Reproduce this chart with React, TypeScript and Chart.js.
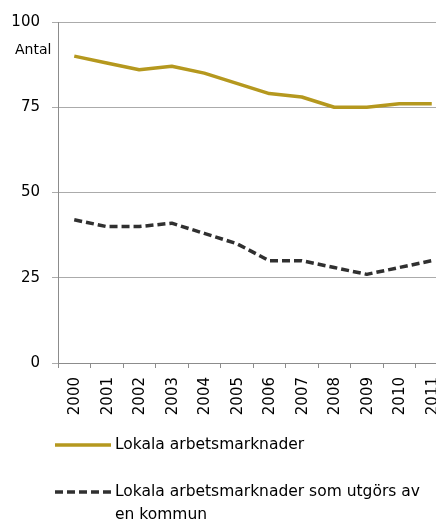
import React, { useEffect, useRef } from 'react';
import { Chart, registerables } from 'chart.js';

Chart.register(...registerables);

const years = ['2000', '2001', '2002', '2003', '2004', '2005', '2006', '2007', '2008', '2009', '2010', '2011'];
const lokala = [90, 88, 86, 87, 85, 82, 79, 78, 75, 75, 76, 76];
const enKommun = [42, 40, 40, 41, 38, 35, 30, 30, 28, 26, 28, 30];
const yMin = 0;
const yMax = 100;
const yStep = 25;
const yUnit = 'Antal';
const seriesNames = ['Lokala arbetsmarknader', 'Lokala arbetsmarknader som utgörs av\nen kommun'];

const FONT = '"DejaVu Sans", Verdana, sans-serif';
const GOLD = '#B5981E';
const DARK = '#303030';

const extras = {
  id: 'extras',
  afterDraw(chart: any) {
    const ctx = chart.ctx;
    const area = chart.chartArea;
    const xs = chart.scales.x;
    ctx.save();
    ctx.fillStyle = '#000';

    // y unit label
    ctx.textBaseline = 'middle';
    ctx.textAlign = 'left';
    ctx.font = `14px ${FONT}`;
    ctx.fillText(yUnit, 15, area.top + 28);

    // x labels, rotated to read bottom-to-top
    ctx.font = `15px ${FONT}`;
    (chart.data.labels as string[]).forEach((lab: string, i: number) => {
      const px = xs.getPixelForValue(i);
      ctx.save();
      ctx.translate(px + 1, area.bottom + 14);
      ctx.rotate(-Math.PI / 2);
      ctx.textAlign = 'right';
      ctx.textBaseline = 'middle';
      ctx.fillText(lab, 0, 0);
      ctx.restore();
    });

    // legend
    ctx.textAlign = 'left';
    ctx.textBaseline = 'middle';
    const rows = [area.bottom + 82, area.bottom + 129];
    chart.data.datasets.forEach((ds: any, i: number) => {
      const y = rows[i];
      ctx.save();
      ctx.strokeStyle = ds.borderColor;
      ctx.lineWidth = ds.borderWidth;
      ctx.setLineDash(ds.borderDash || []);
      ctx.beginPath();
      ctx.moveTo(55, y);
      ctx.lineTo(111, y);
      ctx.stroke();
      ctx.restore();
      ctx.font = `15.5px ${FONT}`;
      ctx.fillStyle = '#000';
      String(ds.label).split('\n').forEach((line: string, j: number) => {
        ctx.fillText(line, 115, y + j * 23);
      });
    });
    ctx.restore();
  },
};

export default function App() {
  const ref = useRef<HTMLCanvasElement>(null);
  useEffect(() => {
    if (!ref.current) return;
    const chart = new Chart(ref.current, {
      type: 'line',
      data: {
        labels: years,
        datasets: [
          {
            label: seriesNames[0],
            data: lokala,
            borderColor: GOLD,
            backgroundColor: GOLD,
            borderWidth: 3.5,
            pointRadius: 0,
            tension: 0,
            borderJoinStyle: 'round',
          },
          {
            label: seriesNames[1],
            data: enKommun,
            borderColor: DARK,
            backgroundColor: DARK,
            borderWidth: 3.5,
            borderDash: [8, 4],
            pointRadius: 0,
            tension: 0,
            borderJoinStyle: 'round',
          },
        ],
      },
      options: {
        animation: false,
        responsive: false,
        maintainAspectRatio: false,
        layout: { autoPadding: false, padding: { top: 22, right: 12, left: 0, bottom: 0 } },
        plugins: { legend: { display: false }, tooltip: { enabled: false }, title: { display: false } },
        scales: {
          x: {
            type: 'category',
            offset: true,
            grid: { offset: true, drawOnChartArea: false, drawTicks: true, tickLength: 5, color: '#8C8C8C' },
            border: { color: '#8C8C8C' },
            ticks: {
              autoSkip: false,
              maxRotation: 0,
              minRotation: 0,
              color: 'rgba(0,0,0,0)',
              font: { size: 15, family: FONT },
            },
            afterFit: (s: any) => {
              s.height = 159;
            },
          },
          y: {
            min: yMin,
            max: yMax,
            ticks: { stepSize: yStep, padding: 12, color: '#000', font: { size: 15, family: FONT } },
            grid: { color: '#ABABAB', tickLength: 6 },
            border: { color: '#8C8C8C' },
            afterFit: (s: any) => {
              s.width = 58;
            },
          },
        },
      },
      plugins: [extras],
    });
    return () => chart.destroy();
  }, []);
  return (
    <div style={{ position: 'absolute', left: 0, top: 0, width: 436, height: 522, overflow: 'hidden', background: '#fff' }}>
      <canvas ref={ref} width={460} height={522} style={{ width: 460, height: 522, display: 'block' }} />
    </div>
  );
}
